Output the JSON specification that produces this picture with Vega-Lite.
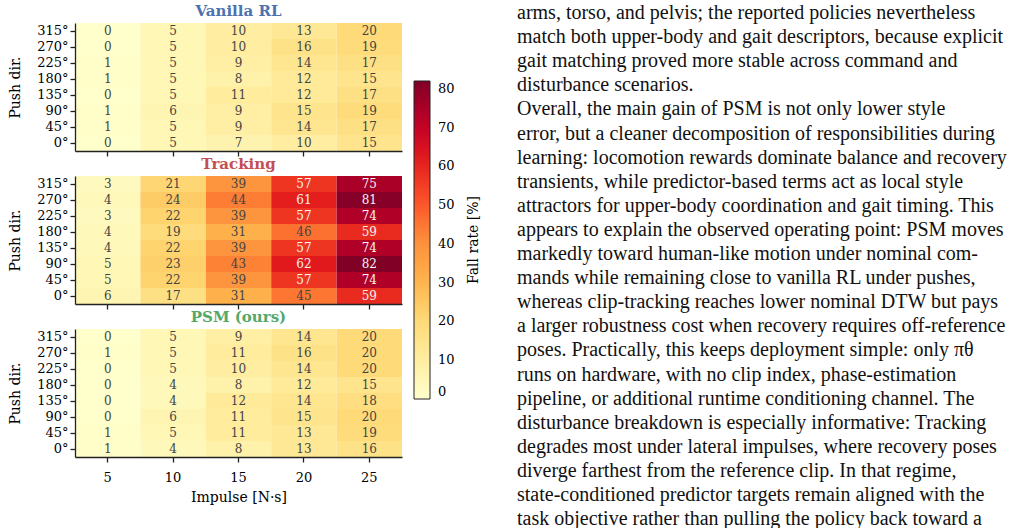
{
  "$schema": "https://vega.github.io/schema/vega-lite/v6.json",
  "padding": {"left": 8, "top": 2, "right": 0, "bottom": 0},
  "background": "white",
  "config": {
    "font": "DejaVu Serif",
    "view": {"stroke": null},
    "axis": {
      "labelFont": "DejaVu Serif", "titleFont": "DejaVu Serif",
      "labelFontSize": 13, "titleFontSize": 14, "titleFontWeight": "normal",
      "labelColor": "#000", "titleColor": "#000",
      "domainColor": "#222", "tickColor": "#222",
      "domainWidth": 1.3, "tickWidth": 1.3, "tickSize": 5, "grid": false
    },
    "legend": {
      "labelFont": "DejaVu Serif", "titleFont": "DejaVu Serif",
      "labelFontSize": 13, "titleFontSize": 14, "titleFontWeight": "normal",
      "labelColor": "#000", "titleColor": "#000"
    },
    "title": {"font": "DejaVu Serif", "fontSize": 15, "fontWeight": "bold", "offset": 0}
  },
  "datasets": {
    "cells": [
      {"m":"Vanilla RL","dir":315,"imp":5,"v":0},{"m":"Vanilla RL","dir":315,"imp":10,"v":5},{"m":"Vanilla RL","dir":315,"imp":15,"v":10},{"m":"Vanilla RL","dir":315,"imp":20,"v":13},{"m":"Vanilla RL","dir":315,"imp":25,"v":20},
      {"m":"Vanilla RL","dir":270,"imp":5,"v":0},{"m":"Vanilla RL","dir":270,"imp":10,"v":5},{"m":"Vanilla RL","dir":270,"imp":15,"v":10},{"m":"Vanilla RL","dir":270,"imp":20,"v":16},{"m":"Vanilla RL","dir":270,"imp":25,"v":19},
      {"m":"Vanilla RL","dir":225,"imp":5,"v":1},{"m":"Vanilla RL","dir":225,"imp":10,"v":5},{"m":"Vanilla RL","dir":225,"imp":15,"v":9},{"m":"Vanilla RL","dir":225,"imp":20,"v":14},{"m":"Vanilla RL","dir":225,"imp":25,"v":17},
      {"m":"Vanilla RL","dir":180,"imp":5,"v":1},{"m":"Vanilla RL","dir":180,"imp":10,"v":5},{"m":"Vanilla RL","dir":180,"imp":15,"v":8},{"m":"Vanilla RL","dir":180,"imp":20,"v":12},{"m":"Vanilla RL","dir":180,"imp":25,"v":15},
      {"m":"Vanilla RL","dir":135,"imp":5,"v":0},{"m":"Vanilla RL","dir":135,"imp":10,"v":5},{"m":"Vanilla RL","dir":135,"imp":15,"v":11},{"m":"Vanilla RL","dir":135,"imp":20,"v":12},{"m":"Vanilla RL","dir":135,"imp":25,"v":17},
      {"m":"Vanilla RL","dir":90,"imp":5,"v":1},{"m":"Vanilla RL","dir":90,"imp":10,"v":6},{"m":"Vanilla RL","dir":90,"imp":15,"v":9},{"m":"Vanilla RL","dir":90,"imp":20,"v":15},{"m":"Vanilla RL","dir":90,"imp":25,"v":19},
      {"m":"Vanilla RL","dir":45,"imp":5,"v":1},{"m":"Vanilla RL","dir":45,"imp":10,"v":5},{"m":"Vanilla RL","dir":45,"imp":15,"v":9},{"m":"Vanilla RL","dir":45,"imp":20,"v":14},{"m":"Vanilla RL","dir":45,"imp":25,"v":17},
      {"m":"Vanilla RL","dir":0,"imp":5,"v":0},{"m":"Vanilla RL","dir":0,"imp":10,"v":5},{"m":"Vanilla RL","dir":0,"imp":15,"v":7},{"m":"Vanilla RL","dir":0,"imp":20,"v":10},{"m":"Vanilla RL","dir":0,"imp":25,"v":15},

      {"m":"Tracking","dir":315,"imp":5,"v":3},{"m":"Tracking","dir":315,"imp":10,"v":21},{"m":"Tracking","dir":315,"imp":15,"v":39},{"m":"Tracking","dir":315,"imp":20,"v":57},{"m":"Tracking","dir":315,"imp":25,"v":75},
      {"m":"Tracking","dir":270,"imp":5,"v":4},{"m":"Tracking","dir":270,"imp":10,"v":24},{"m":"Tracking","dir":270,"imp":15,"v":44},{"m":"Tracking","dir":270,"imp":20,"v":61},{"m":"Tracking","dir":270,"imp":25,"v":81},
      {"m":"Tracking","dir":225,"imp":5,"v":3},{"m":"Tracking","dir":225,"imp":10,"v":22},{"m":"Tracking","dir":225,"imp":15,"v":39},{"m":"Tracking","dir":225,"imp":20,"v":57},{"m":"Tracking","dir":225,"imp":25,"v":74},
      {"m":"Tracking","dir":180,"imp":5,"v":4},{"m":"Tracking","dir":180,"imp":10,"v":19},{"m":"Tracking","dir":180,"imp":15,"v":31},{"m":"Tracking","dir":180,"imp":20,"v":46},{"m":"Tracking","dir":180,"imp":25,"v":59},
      {"m":"Tracking","dir":135,"imp":5,"v":4},{"m":"Tracking","dir":135,"imp":10,"v":22},{"m":"Tracking","dir":135,"imp":15,"v":39},{"m":"Tracking","dir":135,"imp":20,"v":57},{"m":"Tracking","dir":135,"imp":25,"v":74},
      {"m":"Tracking","dir":90,"imp":5,"v":5},{"m":"Tracking","dir":90,"imp":10,"v":23},{"m":"Tracking","dir":90,"imp":15,"v":43},{"m":"Tracking","dir":90,"imp":20,"v":62},{"m":"Tracking","dir":90,"imp":25,"v":82},
      {"m":"Tracking","dir":45,"imp":5,"v":5},{"m":"Tracking","dir":45,"imp":10,"v":22},{"m":"Tracking","dir":45,"imp":15,"v":39},{"m":"Tracking","dir":45,"imp":20,"v":57},{"m":"Tracking","dir":45,"imp":25,"v":74},
      {"m":"Tracking","dir":0,"imp":5,"v":6},{"m":"Tracking","dir":0,"imp":10,"v":17},{"m":"Tracking","dir":0,"imp":15,"v":31},{"m":"Tracking","dir":0,"imp":20,"v":45},{"m":"Tracking","dir":0,"imp":25,"v":59},

      {"m":"PSM (ours)","dir":315,"imp":5,"v":0},{"m":"PSM (ours)","dir":315,"imp":10,"v":5},{"m":"PSM (ours)","dir":315,"imp":15,"v":9},{"m":"PSM (ours)","dir":315,"imp":20,"v":14},{"m":"PSM (ours)","dir":315,"imp":25,"v":20},
      {"m":"PSM (ours)","dir":270,"imp":5,"v":1},{"m":"PSM (ours)","dir":270,"imp":10,"v":5},{"m":"PSM (ours)","dir":270,"imp":15,"v":11},{"m":"PSM (ours)","dir":270,"imp":20,"v":16},{"m":"PSM (ours)","dir":270,"imp":25,"v":20},
      {"m":"PSM (ours)","dir":225,"imp":5,"v":0},{"m":"PSM (ours)","dir":225,"imp":10,"v":5},{"m":"PSM (ours)","dir":225,"imp":15,"v":10},{"m":"PSM (ours)","dir":225,"imp":20,"v":14},{"m":"PSM (ours)","dir":225,"imp":25,"v":20},
      {"m":"PSM (ours)","dir":180,"imp":5,"v":0},{"m":"PSM (ours)","dir":180,"imp":10,"v":4},{"m":"PSM (ours)","dir":180,"imp":15,"v":8},{"m":"PSM (ours)","dir":180,"imp":20,"v":12},{"m":"PSM (ours)","dir":180,"imp":25,"v":15},
      {"m":"PSM (ours)","dir":135,"imp":5,"v":0},{"m":"PSM (ours)","dir":135,"imp":10,"v":4},{"m":"PSM (ours)","dir":135,"imp":15,"v":12},{"m":"PSM (ours)","dir":135,"imp":20,"v":14},{"m":"PSM (ours)","dir":135,"imp":25,"v":18},
      {"m":"PSM (ours)","dir":90,"imp":5,"v":0},{"m":"PSM (ours)","dir":90,"imp":10,"v":6},{"m":"PSM (ours)","dir":90,"imp":15,"v":11},{"m":"PSM (ours)","dir":90,"imp":20,"v":15},{"m":"PSM (ours)","dir":90,"imp":25,"v":20},
      {"m":"PSM (ours)","dir":45,"imp":5,"v":1},{"m":"PSM (ours)","dir":45,"imp":10,"v":5},{"m":"PSM (ours)","dir":45,"imp":15,"v":11},{"m":"PSM (ours)","dir":45,"imp":20,"v":13},{"m":"PSM (ours)","dir":45,"imp":25,"v":19},
      {"m":"PSM (ours)","dir":0,"imp":5,"v":1},{"m":"PSM (ours)","dir":0,"imp":10,"v":4},{"m":"PSM (ours)","dir":0,"imp":15,"v":8},{"m":"PSM (ours)","dir":0,"imp":20,"v":13},{"m":"PSM (ours)","dir":0,"imp":25,"v":16}
    ],
    "lines": [
      {"i":0,"t":"arms, torso, and pelvis; the reported policies nevertheless"},
      {"i":1,"t":"match both upper-body and gait descriptors, because explicit"},
      {"i":2,"t":"gait matching proved more stable across command and"},
      {"i":3,"t":"disturbance scenarios."},
      {"i":4,"t":"\u2003Overall, the main gain of PSM is not only lower style"},
      {"i":5,"t":"error, but a cleaner decomposition of responsibilities during"},
      {"i":6,"t":"learning: locomotion rewards dominate balance and recovery"},
      {"i":7,"t":"transients, while predictor-based terms act as local style"},
      {"i":8,"t":"attractors for upper-body coordination and gait timing. This"},
      {"i":9,"t":"appears to explain the observed operating point: PSM moves"},
      {"i":10,"t":"markedly toward human-like motion under nominal com-"},
      {"i":11,"t":"mands while remaining close to vanilla RL under pushes,"},
      {"i":12,"t":"whereas clip-tracking reaches lower nominal DTW but pays"},
      {"i":13,"t":"a larger robustness cost when recovery requires off-reference"},
      {"i":14,"t":"poses. Practically, this keeps deployment simple: only πθ"},
      {"i":15,"t":"runs on hardware, with no clip index, phase-estimation"},
      {"i":16,"t":"pipeline, or additional runtime conditioning channel. The"},
      {"i":17,"t":"disturbance breakdown is especially informative: Tracking"},
      {"i":18,"t":"degrades most under lateral impulses, where recovery poses"},
      {"i":19,"t":"diverge farthest from the reference clip. In that regime,"},
      {"i":20,"t":"state-conditioned predictor targets remain aligned with the"},
      {"i":21,"t":"task objective rather than pulling the policy back toward a"}
    ]
  },
  "spacing": 115,
  "hconcat": [
    {
      "data": {"name": "cells"},
      "spacing": 0,
      "resolve": {"scale": {"color": "shared"}, "legend": {"color": "shared"}},
      "vconcat": [
        {
          "title": {"text": "Vanilla RL", "color": "#4C72B0"},
          "width": 327, "height": 128,
          "transform": [{"filter": "datum.m === 'Vanilla RL'"}],
          "encoding": {
            "x": {"field": "imp", "type": "ordinal", "scale": {"paddingInner": 0, "paddingOuter": 0}, "axis": {"labels": false, "title": null}},
            "y": {"field": "dir", "type": "ordinal", "sort": "descending", "scale": {"paddingInner": 0, "paddingOuter": 0}, "axis": {"title": "Push dir.", "labelExpr": "datum.label + '°'", "labelAngle": 0, "titlePadding": 14}}
          },
          "layer": [
            {"mark": {"type": "rect"}, "encoding": {"color": {"field": "v", "type": "quantitative", "scale": {"domain": [0, 10.25, 20.5, 30.75, 41, 51.25, 61.5, 71.75, 82], "range": ["#ffffcc", "#ffeda0", "#fed976", "#feb24c", "#fd8d3c", "#fc4e2a", "#e31a1c", "#bd0026", "#800026"]},
              "legend": {"orient": "none", "legendX": 339, "legendY": 58, "direction": "vertical", "title": "Fall rate [%]", "titleOrient": "right", "titleAnchor": "middle", "titleBaseline": "top", "titlePadding": 12, "gradientLength": 318, "gradientThickness": 16, "gradientStrokeColor": "#222", "gradientStrokeWidth": 1, "values": [0,10,20,30,40,50,60,70,80], "labelOffset": 8,
                "encode": {"title": {"update": {"angle": {"value": 270}}}}}}}},
            {"mark": {"type": "text", "fontSize": 12, "font": "DejaVu Serif"}, "encoding": {"text": {"field": "v"}, "color": {"condition": {"test": "datum.v >= 50", "value": "#f4f4f4"}, "value": "#444444"}}}
          ]
        },
        {
          "title": {"text": "Tracking", "color": "#C44E52"},
          "width": 327, "height": 128,
          "transform": [{"filter": "datum.m === 'Tracking'"}],
          "encoding": {
            "x": {"field": "imp", "type": "ordinal", "scale": {"paddingInner": 0, "paddingOuter": 0}, "axis": {"labels": false, "title": null}},
            "y": {"field": "dir", "type": "ordinal", "sort": "descending", "scale": {"paddingInner": 0, "paddingOuter": 0}, "axis": {"title": "Push dir.", "labelExpr": "datum.label + '°'", "labelAngle": 0, "titlePadding": 14}}
          },
          "layer": [
            {"mark": {"type": "rect"}, "encoding": {"color": {"field": "v", "type": "quantitative", "scale": {"domain": [0, 10.25, 20.5, 30.75, 41, 51.25, 61.5, 71.75, 82], "range": ["#ffffcc", "#ffeda0", "#fed976", "#feb24c", "#fd8d3c", "#fc4e2a", "#e31a1c", "#bd0026", "#800026"]},
              "legend": {"orient": "none", "legendX": 339, "legendY": 58, "direction": "vertical", "title": "Fall rate [%]", "titleOrient": "right", "titleAnchor": "middle", "titleBaseline": "top", "titlePadding": 12, "gradientLength": 318, "gradientThickness": 16, "gradientStrokeColor": "#222", "gradientStrokeWidth": 1, "values": [0,10,20,30,40,50,60,70,80], "labelOffset": 8,
                "encode": {"title": {"update": {"angle": {"value": 270}}}}}}}},
            {"mark": {"type": "text", "fontSize": 12, "font": "DejaVu Serif"}, "encoding": {"text": {"field": "v"}, "color": {"condition": {"test": "datum.v >= 50", "value": "#f4f4f4"}, "value": "#444444"}}}
          ]
        },
        {
          "title": {"text": "PSM (ours)", "color": "#55A868"},
          "width": 327, "height": 128,
          "transform": [{"filter": "datum.m === 'PSM (ours)'"}],
          "encoding": {
            "x": {"field": "imp", "type": "ordinal", "scale": {"paddingInner": 0, "paddingOuter": 0}, "axis": {"title": "Impulse [N·s]", "labelAngle": 0, "labelPadding": 9, "titlePadding": 6}},
            "y": {"field": "dir", "type": "ordinal", "sort": "descending", "scale": {"paddingInner": 0, "paddingOuter": 0}, "axis": {"title": "Push dir.", "labelExpr": "datum.label + '°'", "labelAngle": 0, "titlePadding": 14}}
          },
          "layer": [
            {"mark": {"type": "rect"}, "encoding": {"color": {"field": "v", "type": "quantitative", "scale": {"domain": [0, 10.25, 20.5, 30.75, 41, 51.25, 61.5, 71.75, 82], "range": ["#ffffcc", "#ffeda0", "#fed976", "#feb24c", "#fd8d3c", "#fc4e2a", "#e31a1c", "#bd0026", "#800026"]},
              "legend": {"orient": "none", "legendX": 339, "legendY": 58, "direction": "vertical", "title": "Fall rate [%]", "titleOrient": "right", "titleAnchor": "middle", "titleBaseline": "top", "titlePadding": 12, "gradientLength": 318, "gradientThickness": 16, "gradientStrokeColor": "#222", "gradientStrokeWidth": 1, "values": [0,10,20,30,40,50,60,70,80], "labelOffset": 8,
                "encode": {"title": {"update": {"angle": {"value": 270}}}}}}}},
            {"mark": {"type": "text", "fontSize": 12, "font": "DejaVu Serif"}, "encoding": {"text": {"field": "v"}, "color": {"condition": {"test": "datum.v >= 50", "value": "#f4f4f4"}, "value": "#444444"}}}
          ]
        }
      ]
    },
    {
      "data": {"name": "lines"},
      "width": 490, "height": 506,
      "mark": {"type": "text", "align": "left", "baseline": "middle", "font": "Liberation Serif", "fontSize": 20, "color": "#111"},
      "encoding": {
        "x": {"value": 0},
        "y": {"field": "i", "type": "quantitative", "scale": {"domain": [0.415, 21.41], "reverse": true, "nice": false, "zero": false}, "axis": null},
        "text": {"field": "t"}
      }
    }
  ]
}
